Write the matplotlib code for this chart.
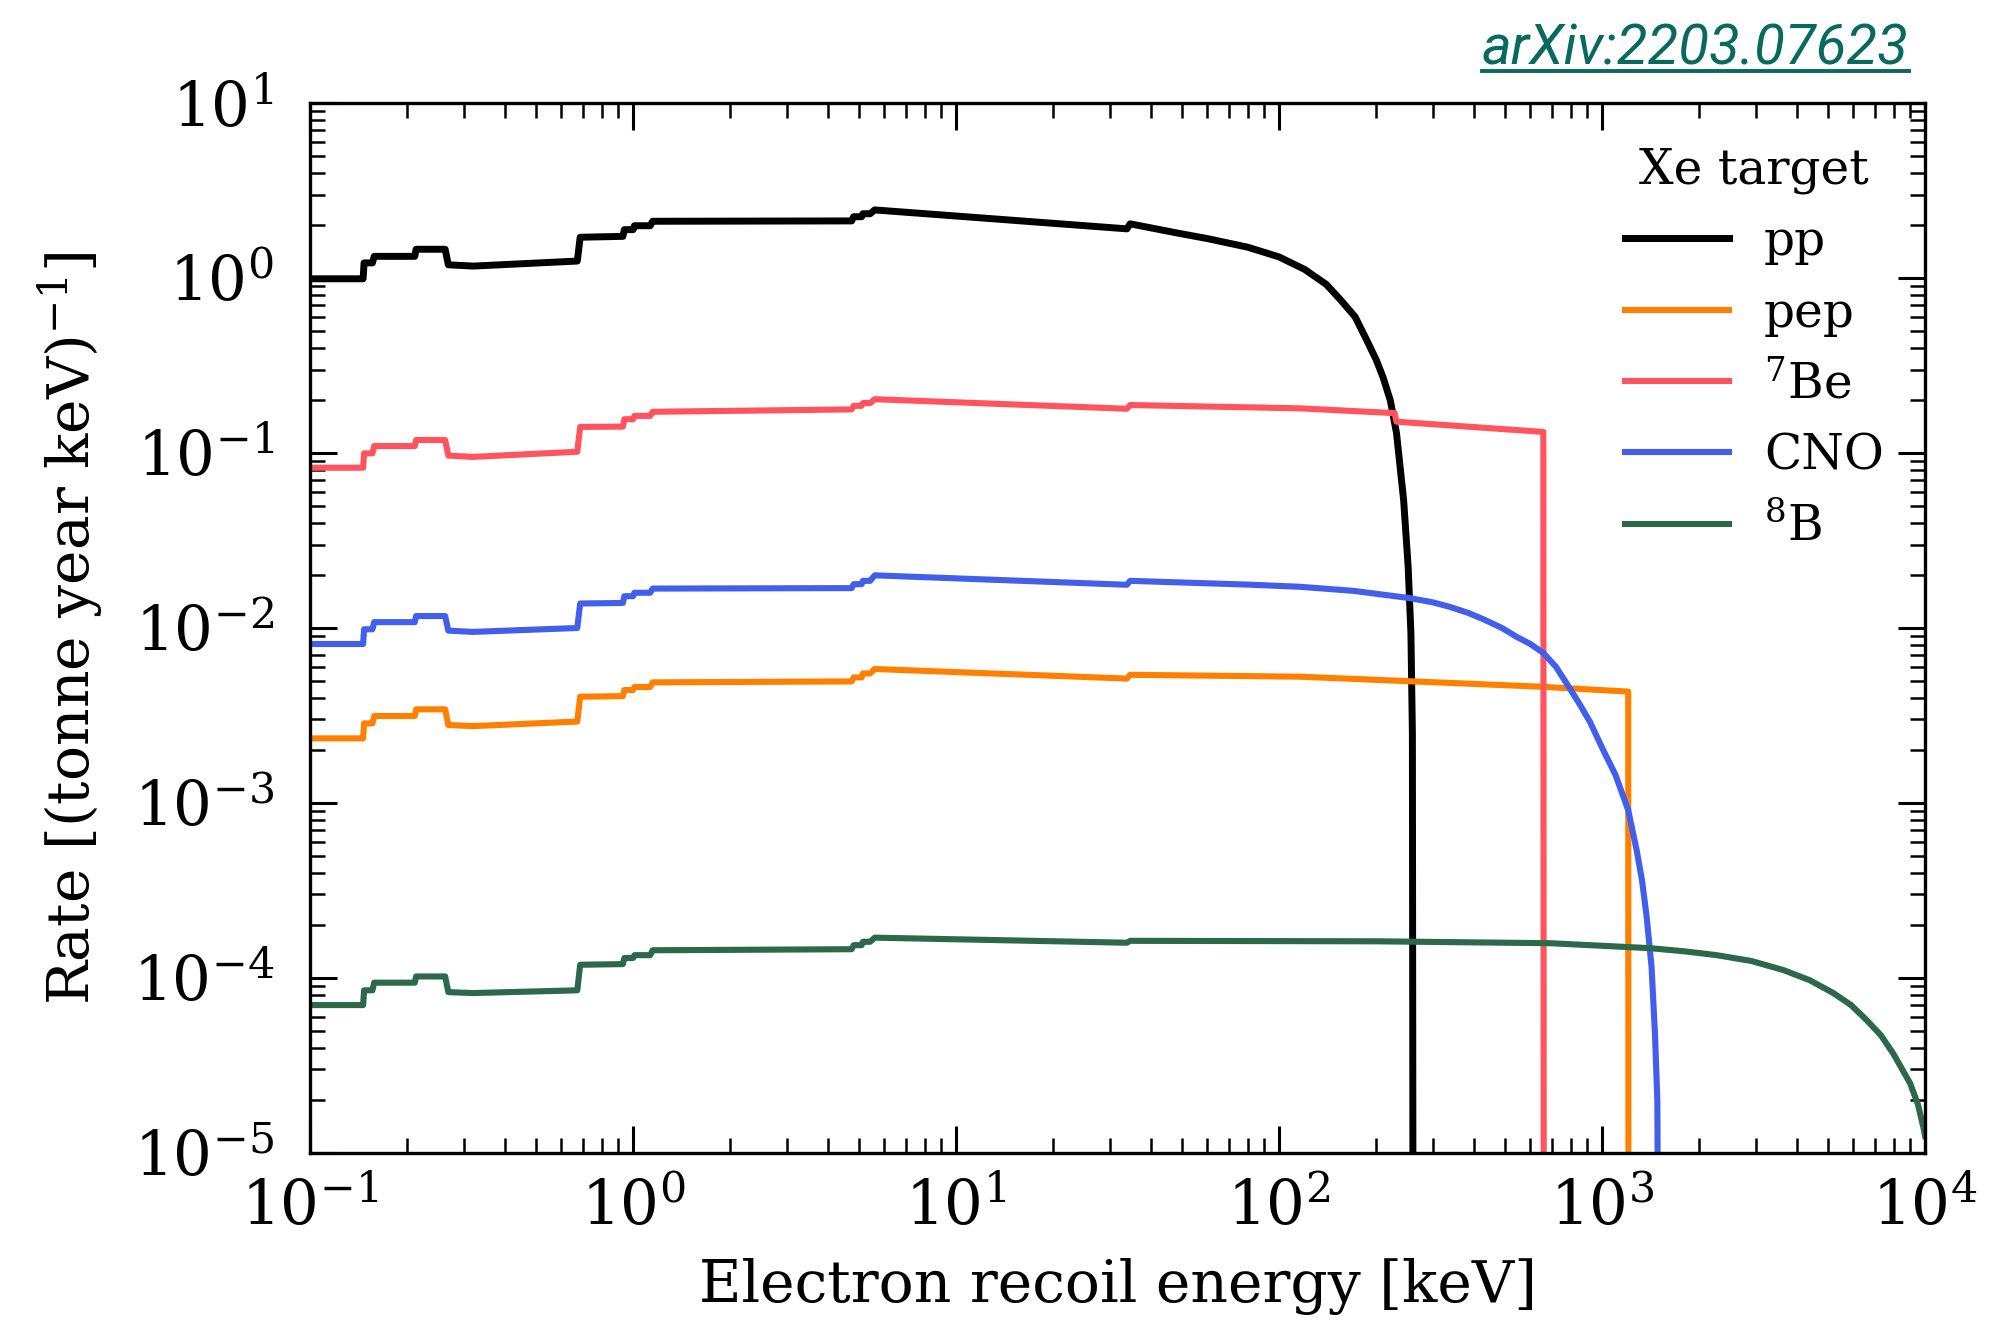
import matplotlib.pyplot as plt
from matplotlib.lines import Line2D

plt.rcParams['font.family'] = ['DejaVu Serif']
plt.rcParams['mathtext.fontset'] = 'dejavuserif'

# shared energy grid of the low energy part (atomic shell steps), keV
e_low = [0.1, 0.146, 0.147, 0.156, 0.158, 0.211, 0.213, 0.262, 0.268, 0.32,
         0.672, 0.686, 0.93, 0.94, 1.0, 1.01, 1.13, 1.15, 4.75, 4.82,
         5.1, 5.15, 5.42, 5.6, 33.8, 34.6]

# rates in (tonne year keV)^-1
pp_low = [0.99, 0.99, 1.22, 1.22, 1.33, 1.33, 1.46, 1.46, 1.19, 1.17,
          1.25, 1.71, 1.73, 1.89, 1.89, 1.99, 1.99, 2.11, 2.12, 2.24,
          2.24, 2.33, 2.33, 2.45, 1.91, 2.04]
pp_tail_e = [49, 60, 80, 100, 120, 140, 155, 172, 187, 200, 210, 221, 231, 243, 251, 256, 258.7, 260]
pp_tail = [1.80, 1.68, 1.50, 1.32, 1.12, 0.92, 0.75, 0.60, 0.44, 0.34, 0.27, 0.20, 0.13, 0.054,
           0.0224, 0.0093, 0.0025, 1e-6]

pep_low = [0.00234, 0.00234, 0.00285, 0.00285, 0.00314, 0.00314, 0.00343, 0.00343, 0.00279, 0.00275,
           0.00292, 0.00405, 0.00408, 0.00442, 0.00442, 0.0046, 0.0046, 0.00489, 0.00495, 0.00522,
           0.00522, 0.0055, 0.0055, 0.00583, 0.00514, 0.0054]
pep_tail_e = [116, 643, 1205, 1207]
pep_tail = [0.00527, 0.00462, 0.00433, 1e-6]

be7_low = [0.0824, 0.0824, 0.0995, 0.0995, 0.1096, 0.1096, 0.1186, 0.1186, 0.0966, 0.095,
           0.1017, 0.141, 0.1415, 0.156, 0.156, 0.163, 0.163, 0.172, 0.1775, 0.186,
           0.186, 0.193, 0.193, 0.203, 0.179, 0.188]
be7_tail_e = [116, 228, 231, 658, 660]
be7_tail = [0.180, 0.169, 0.151, 0.132, 1e-6]

cno_low = [0.0081, 0.0081, 0.00983, 0.00983, 0.0108, 0.0108, 0.0117, 0.0117, 0.00966, 0.0095,
           0.0100, 0.0138, 0.0139, 0.0152, 0.0152, 0.0159, 0.0159, 0.0168, 0.0169, 0.0178,
           0.0178, 0.0186, 0.0186, 0.0200, 0.01766, 0.0186]
cno_tail_e = [80, 116, 170, 255, 300, 338, 385, 430, 490, 544, 600, 658, 720, 778, 850, 918,
              1009, 1100, 1205, 1279, 1330, 1374, 1423, 1458, 1483, 1495]
cno_tail = [0.0177, 0.0172, 0.0163, 0.0148, 0.0140, 0.0132, 0.0122, 0.0112, 0.0100, 0.0089,
            0.0081, 0.0072, 0.0060, 0.0048, 0.0037, 0.0029, 0.0020, 0.00145, 0.00091, 5.4e-4,
            3.6e-4, 2.24e-4, 1.16e-4, 4.8e-5, 2.0e-5, 1e-6]

b8_low = [7.0e-5, 7.0e-5, 8.5e-5, 8.5e-5, 9.4e-5, 9.4e-5, 1.02e-4, 1.02e-4, 8.3e-5, 8.2e-5,
          8.5e-5, 1.19e-4, 1.2e-4, 1.30e-4, 1.30e-4, 1.35e-4, 1.35e-4, 1.44e-4, 1.46e-4, 1.54e-4,
          1.54e-4, 1.61e-4, 1.61e-4, 1.70e-4, 1.59e-4, 1.63e-4]
b8_tail_e = [200, 690, 1410, 1800, 2265, 2900, 3640, 4400, 5200, 5900, 6590, 7300, 7970, 8990,
             9500, 9880, 10000]
b8_tail = [1.62e-4, 1.58e-4, 1.48e-4, 1.42e-4, 1.35e-4, 1.25e-4, 1.11e-4, 9.7e-5, 8.2e-5,
           7.0e-5, 5.75e-5, 4.7e-5, 3.7e-5, 2.5e-5, 1.9e-5, 1.4e-5, 1.25e-5]

labels = ['pp', 'pep', r'$^{7}$Be', 'CNO', r'$^{8}$B']
colors = ['black', '#FF8000', '#FF535D', '#415FEB', '#2C684A']

fig = plt.figure(figsize=(10.04, 6.63), dpi=200)
ax = fig.add_axes([0.1544, 0.1305, 0.8043, 0.7918])

series = [(pp_tail_e, pp_low, pp_tail), (pep_tail_e, pep_low, pep_tail),
          (be7_tail_e, be7_low, be7_tail), (cno_tail_e, cno_low, cno_tail),
          (b8_tail_e, b8_low, b8_tail)]
for (tail_e, low, tail), lab, col in zip(series, labels, colors):
    lw = 2.5 if lab == 'pp' else 2.2
    ax.plot(e_low + tail_e, low + tail, color=col, lw=lw, label=lab)

ax.set_xscale('log')
ax.set_yscale('log')
ax.set_xlim(0.1, 1e4)
ax.set_ylim(1e-5, 10)

ax.set_xlabel('Electron recoil energy [keV]', fontsize=21)
ax.set_ylabel(r'Rate [(tonne year keV)$^{-1}$]', fontsize=21)
ax.xaxis.set_label_coords(0.5, -0.1)
ax.yaxis.set_label_coords(-0.127, 0.5)

ax.tick_params(which='both', direction='in', top=True, right=True)
ax.tick_params(which='major', length=9.7, width=1.1, labelsize=22)
ax.tick_params(which='minor', length=5.4, width=0.9)
ax.tick_params(axis='y', which='major', pad=13)
ax.tick_params(axis='x', which='major', pad=9)
for sp in ax.spines.values():
    sp.set_linewidth(1.2)

leg = ax.legend(title='Xe target', loc='upper left', bbox_to_anchor=(0.802, 0.977),
                borderaxespad=0, frameon=False, fontsize=17.5, title_fontsize=17.5,
                handlelength=2.14, handletextpad=0.72, labelspacing=0.5)

# link text in the top right corner, underlined
link = fig.text(0.9505, 0.9517, 'arXiv:2203.07623', family='Roboto', style='italic',
                fontsize=20.3, color='#08695E', ha='right', va='baseline')
fig.canvas.draw()
bb = link.get_window_extent().transformed(fig.transFigure.inverted())
fig.add_artist(Line2D([bb.x0, bb.x1], [0.9465, 0.9465], transform=fig.transFigure,
                      color='#08695E', lw=1.4))

fig.savefig('out.png', dpi=200)
